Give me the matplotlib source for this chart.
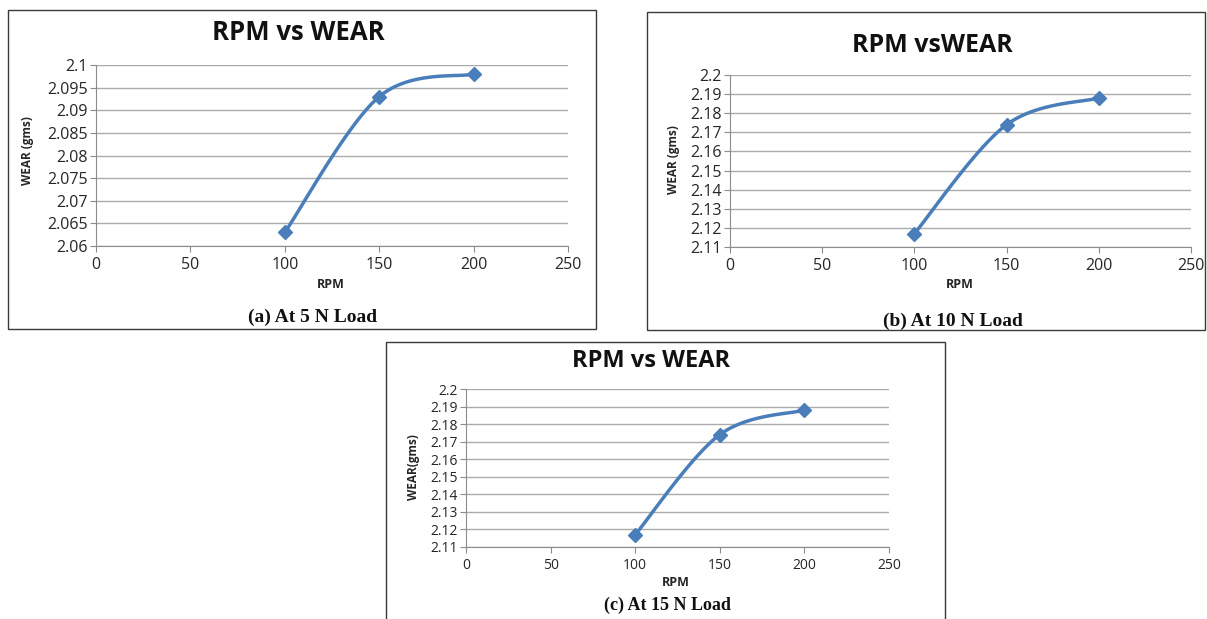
import numpy as np
import matplotlib
matplotlib.use("Agg")
import matplotlib.pyplot as plt
from matplotlib.patches import Rectangle

# data
rpm = [100, 150, 200]
wear_5n = [2.063, 2.093, 2.098]
wear_10n = [2.117, 2.174, 2.188]
wear_15n = [2.117, 2.174, 2.188]

W, H = 1207, 619
LINE = '#4A7EBB'
GRID = '#ABABAB'
TXT = '#262626'


def fx(x):
    return x / W


def fy(y):
    return 1 - y / H


def smooth(x, y, n=40):
    """Excel-like smoothed line (Catmull-Rom as cubic Bezier)."""
    pts = np.column_stack([x, y]).astype(float)
    out = []
    for i in range(len(pts) - 1):
        p0 = pts[i - 1] if i > 0 else pts[i]
        p1, p2 = pts[i], pts[i + 1]
        p3 = pts[i + 2] if i + 2 < len(pts) else pts[i + 1]
        c1 = p1 + (p2 - p0) / 6
        c2 = p2 - (p3 - p1) / 6
        t = np.linspace(0, 1, n)[:, None]
        seg = ((1 - t) ** 3 * p1 + 3 * (1 - t) ** 2 * t * c1
               + 3 * (1 - t) * t ** 2 * c2 + t ** 3 * p2)
        out.append(seg)
    seg = np.vstack(out)
    return seg[:, 0], seg[:, 1]


def panel(fig, box, area, y, ylim, ystep, ylabel, title, title_xy,
          ylab_xy, xlab_xy, caption, cap_xy, fs=10.5, tfs=18, cfs=13.5):
    bx0, by0, bx1, by1 = box
    fig.add_artist(Rectangle((fx(bx0), fy(by1)), fx(bx1 - bx0), (by1 - by0) / H,
                             transform=fig.transFigure, fill=False,
                             edgecolor='#3a3a3a', linewidth=1.0))
    l, t, r, b = area
    ax = fig.add_axes([fx(l), fy(b), fx(r - l), (b - t) / H])
    sx, sy = smooth(rpm, y)
    ax.plot(sx, sy, color=LINE, linewidth=2.5, zorder=3)
    ax.plot(rpm, y, linestyle='none', marker='D', markersize=7.5,
            color=LINE, zorder=4)
    ax.set_xlim(0, 250)
    ax.set_ylim(*ylim)
    ax.set_xticks(np.arange(0, 251, 50))
    ax.set_yticks(np.arange(ylim[0], ylim[1] + ystep / 2, ystep))
    ax.yaxis.set_major_formatter(plt.FuncFormatter(lambda v, p: '%g' % round(v, 4)))
    ax.grid(axis='y', color=GRID, linewidth=1.0)
    ax.set_axisbelow(True)
    for s in ['top', 'right']:
        ax.spines[s].set_visible(False)
    for s in ['left', 'bottom']:
        ax.spines[s].set_color('#8c8c8c')
    ax.tick_params(axis='both', colors='#8c8c8c', labelcolor=TXT,
                   labelsize=fs, length=4, direction='out')
    ax.tick_params(axis='y', pad=2)
    ax.tick_params(axis='x', pad=4)
    fig.text(fx(title_xy[0]), fy(title_xy[1]), title, ha='center', va='center',
             fontsize=tfs, fontweight='bold', family='Open Sans', color='#111111')
    fig.text(fx(ylab_xy[0]), fy(ylab_xy[1]), ylabel, ha='center', va='center',
             rotation=90, fontsize=8.5, fontweight='bold', family='Open Sans',
             color=TXT)
    fig.text(fx(xlab_xy[0]), fy(xlab_xy[1]), 'RPM', ha='center', va='center',
             fontsize=9, fontweight='bold', family='Open Sans', color=TXT)
    fig.text(fx(cap_xy[0]), fy(cap_xy[1]), caption, ha='center', va='center',
             fontsize=cfs, fontweight='bold', family='Liberation Serif',
             color='#111111')
    return ax


plt.rcParams['font.family'] = ['Open Sans', 'DejaVu Sans']
fig = plt.figure(figsize=(W / 100, H / 100), dpi=100)

panel(fig, (8, 10, 596, 329), (96, 65, 568, 246), wear_5n,
      (2.06, 2.1), 0.005, 'WEAR (gms)', 'RPM vs WEAR', (298, 33),
      (28, 151), (331, 285), '(a) At 5 N Load', (313, 317),
      fs=11.5, tfs=18.5, cfs=14)

panel(fig, (647, 12, 1205, 330), (730, 75, 1191, 247), wear_10n,
      (2.11, 2.2), 0.01, 'WEAR (gms)', 'RPM vsWEAR', (932, 45),
      (673, 160), (960, 285), '(b) At 10 N Load', (953, 321),
      fs=11.5, tfs=18, cfs=14)

panel(fig, (386, 342, 945, 640), (466, 389, 889, 547), wear_15n,
      (2.11, 2.2), 0.01, 'WEAR(gms)', 'RPM vs WEAR', (651, 361),
      (414, 467), (676, 582), '(c) At 15 N Load', (667, 605),
      fs=10, tfs=17, cfs=13)

fig.savefig('out.png', dpi=100)
